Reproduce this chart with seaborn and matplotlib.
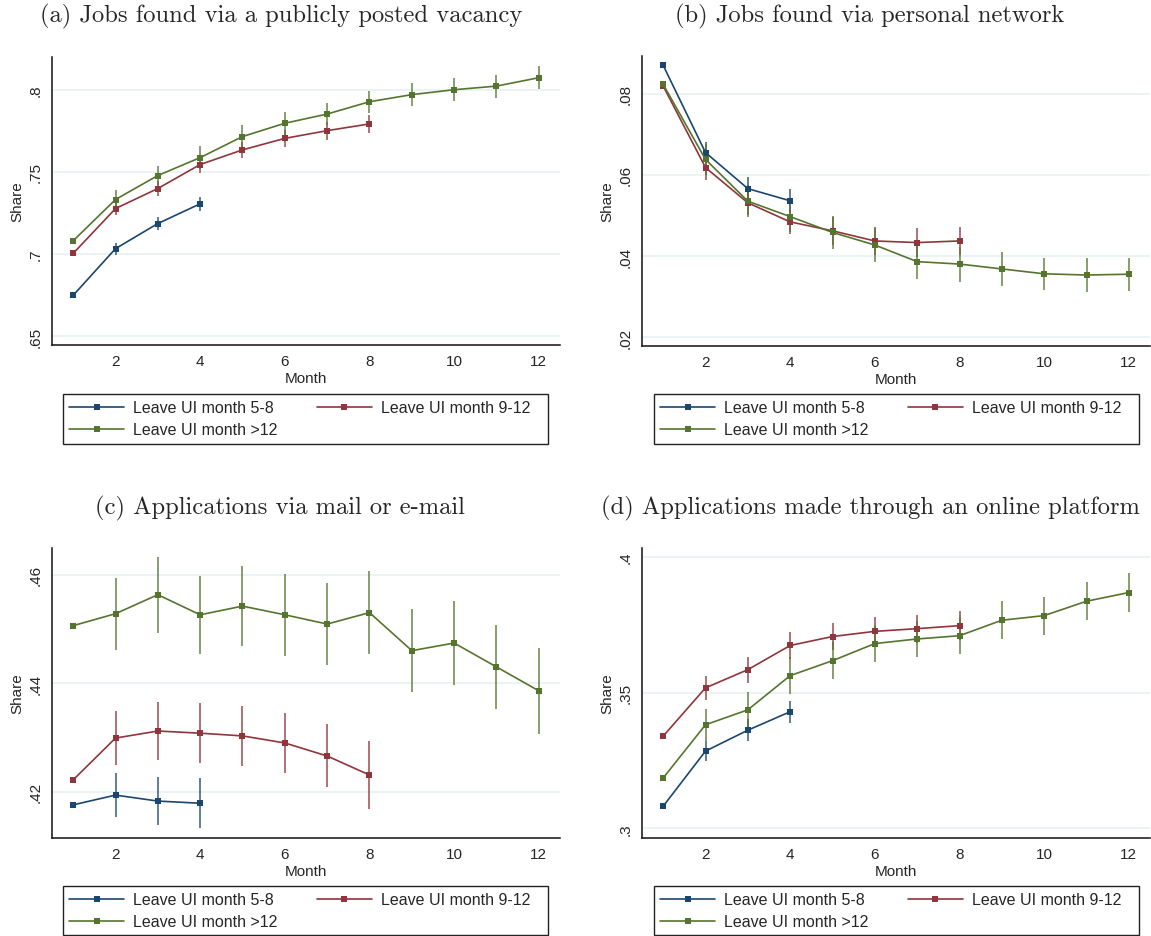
import numpy as np
import pandas as pd
import seaborn as sns
import matplotlib.pyplot as plt
from matplotlib.lines import Line2D
from matplotlib.patches import Rectangle

# series labels and Stata s2color colours
groups = ['Leave UI month 5-8', 'Leave UI month 9-12', 'Leave UI month >12']
colors = ['#1a476f', '#90353b', '#55752f']

months_58 = [1, 2, 3, 4]
months_912 = [1, 2, 3, 4, 5, 6, 7, 8]
months_12 = [1, 2, 3, 4, 5, 6, 7, 8, 9, 10, 11, 12]

# (a) jobs found via a publicly posted vacancy
a_58 = [.6749, .7033, .7186, .7306]
a_58_ci = [0, .0037, .0040, .0042]
a_912 = [.7004, .7277, .7399, .7545, .7634, .7704, .7751, .7792]
a_912_ci = [0, .0040, .0045, .0050, .0050, .0050, .0055, .0055]
a_12 = [.7081, .7332, .7478, .7587, .7715, .7796, .7852, .7927, .7970, .8000, .8022, .8073]
a_12_ci = [0, .0060, .0060, .0068, .0070, .0070, .0067, .0066, .0069, .0069, .0070, .0070]

# (b) jobs found via personal network
b_58 = [.0870, .0655, .0566, .0536]
b_58_ci = [0, .0027, .0028, .0028]
b_912 = [.0819, .0618, .0531, .0484, .0462, .0437, .0433, .0437]
b_912_ci = [0, .0030, .0030, .0030, .0034, .0035, .0035, .0035]
b_12 = [.0823, .0638, .0535, .0497, .0458, .0427, .0386, .0380, .0368, .0356, .0353, .0355]
b_12_ci = [0, .0039, .0040, .0038, .0040, .0043, .0043, .0043, .0042, .0040, .0041, .0041]

# (c) applications via mail or e-mail
c_58 = [.4176, .4194, .4183, .4179]
c_58_ci = [0, .0041, .0044, .0046]
c_912 = [.4222, .4299, .4312, .4308, .4303, .4290, .4266, .4231]
c_912_ci = [0, .0050, .0053, .0055, .0055, .0056, .0058, .0062]
c_12 = [.4506, .4528, .4563, .4526, .4542, .4526, .4509, .4530, .4460, .4474, .4430, .4386]
c_12_ci = [0, .0066, .0070, .0072, .0073, .0075, .0076, .0076, .0077, .0077, .0078, .0079]

# (d) applications made through an online platform
d_58 = [.3082, .3285, .3362, .3430]
d_58_ci = [0, .0036, .0040, .0040]
d_912 = [.3340, .3518, .3585, .3674, .3707, .3726, .3736, .3747]
d_912_ci = [0, .0045, .0048, .0050, .0050, .0052, .0052, .0054]
d_12 = [.3186, .3382, .3437, .3563, .3618, .3681, .3698, .3710, .3767, .3784, .3837, .3869]
d_12_ci = [0, .0058, .0065, .0068, .0068, .0067, .0068, .0068, .0069, .0070, .0070, .0072]

x_ticks = [2, 4, 6, 8, 10, 12]

sns.set_style('white')
plt.rcParams['font.family'] = ['Liberation Sans', 'DejaVu Sans']

W, H = 1151, 937
fig = plt.figure(figsize=(W / 100, H / 100), dpi=100)


def draw_panel(box, series, ylim, yticks, title, title_xy, leg_box):
    # box in pixels: left, top, right, bottom
    l, t, r, b = box
    ax = fig.add_axes([l / W, 1 - b / H, (r - l) / W, (b - t) / H])
    rows = []
    for g, (mths, vals, ci) in zip(groups, series):
        for m, v, c in zip(mths, vals, ci):
            rows.append({'Month': m, 'Share': v, 'ci': c, 'group': g})
    df = pd.DataFrame(rows)
    cmap = dict(zip(groups, colors))

    # confidence spikes first, then lines with square markers
    ax.vlines(df['Month'], df['Share'] - df['ci'], df['Share'] + df['ci'],
              colors=df['group'].map(cmap), alpha=0.7, linewidth=1.4, zorder=2)
    sns.lineplot(data=df, x='Month', y='Share', hue='group', hue_order=groups,
                 palette=colors, marker='s', markersize=4, markeredgewidth=0,
                 linewidth=1.2, ax=ax, legend=False, zorder=3)

    ax.set_xlim(0.5, 12.5)
    ax.set_ylim(*ylim)
    ax.set_xticks(x_ticks)
    ax.set_yticks(yticks)
    ax.set_yticklabels([f'{v:g}'.lstrip('0') for v in yticks],
                       rotation=90, va='center')
    ax.grid(axis='y', color='#eaf2f3', linewidth=1.3)
    ax.set_axisbelow(True)
    for s in ['top', 'right']:
        ax.spines[s].set_visible(False)
    for s in ['left', 'bottom']:
        ax.spines[s].set_color('#111111')
        ax.spines[s].set_linewidth(1.1)
    ax.tick_params(axis='both', direction='out', length=4, width=1.0,
                   color='#111111', labelsize=11, pad=2.5)
    ax.set_xlabel('Month', fontsize=11, labelpad=2)
    ax.set_ylabel('Share', fontsize=11, labelpad=3)

    # legend filled column-wise, so order gives rows: 5-8 | 9-12 / >12
    order = [0, 2, 1]
    handles = [Line2D([], [], color=colors[i], linewidth=1.2, marker='s', markersize=4,
                      markeredgewidth=0) for i in order]
    labels = [groups[i] for i in order]
    lx0, ly0, lx1, ly1 = leg_box
    ax.legend(handles, labels, ncol=2, loc='upper left',
              bbox_to_anchor=(lx0 / W, 1 - ly0 / H),
              bbox_transform=fig.transFigure, borderaxespad=0,
              frameon=False, fontsize=11.5, handlelength=3.45, handletextpad=0.55,
              borderpad=0.4, labelspacing=0.42, columnspacing=2.45)
    # Stata-style legend frame with its own padding
    fig.add_artist(Rectangle((lx0 / W, 1 - ly1 / H), (lx1 - lx0) / W, (ly1 - ly0) / H,
                             transform=fig.transFigure, fill=False,
                             edgecolor='#222222', linewidth=1.0))

    fig.text(title_xy[0] / W, 1 - title_xy[1] / H, title, ha='center', va='center',
             family='cmr10', fontsize=17.7)
    return ax


draw_panel((52, 58, 560, 346),
           [(months_58, a_58, a_58_ci), (months_912, a_912, a_912_ci), (months_12, a_12, a_12_ci)],
           (.6447, .8199), [.65, .7, .75, .8],
           '(a) Jobs found via a publicly posted vacancy', (281, 16), (63, 395, 548, 445))

draw_panel((642, 57, 1150, 347),
           [(months_58, b_58, b_58_ci), (months_912, b_912, b_912_ci), (months_12, b_12, b_12_ci)],
           (.0178, .0893), [.02, .04, .06, .08],
           '(b) Jobs found via personal network', (870, 16), (654, 395, 1139, 445))

draw_panel((52, 549, 560, 839),
           [(months_58, c_58, c_58_ci), (months_912, c_912, c_912_ci), (months_12, c_12, c_12_ci)],
           (.4115, .4649), [.42, .44, .46],
           '(c) Applications via mail or e-mail', (280, 508), (63, 887, 548, 936))

draw_panel((642, 549, 1150, 839),
           [(months_58, d_58, d_58_ci), (months_912, d_912, d_912_ci), (months_12, d_12, d_12_ci)],
           (.2965, .4033), [.3, .35, .4],
           '(d) Applications made through an online platform', (870, 508), (654, 887, 1139, 936))

fig.savefig('out.png', dpi=100)
